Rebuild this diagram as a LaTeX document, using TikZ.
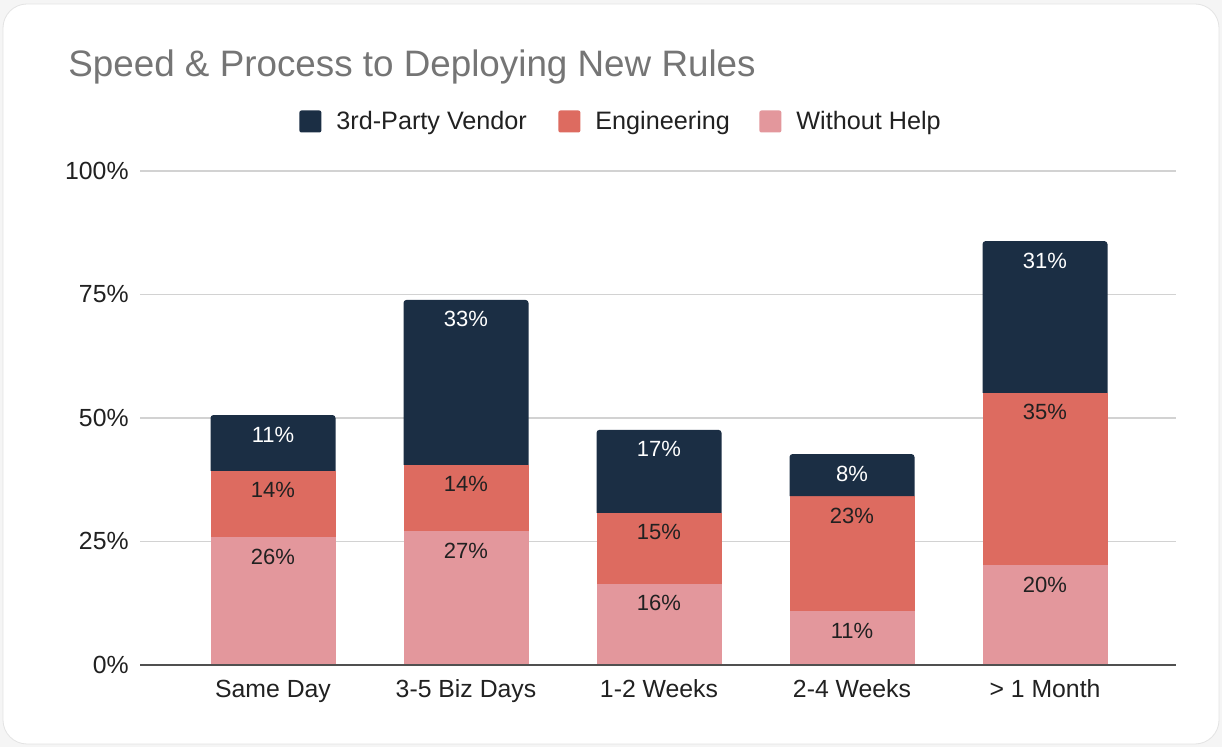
\documentclass[tikz,border=0pt]{standalone}
\usepackage{fontspec}
\setmainfont{Liberation Sans}
\definecolor{vendor}{RGB}{27, 46, 68}
\definecolor{engin}{RGB}{221, 107, 96}
\definecolor{nohelp}{RGB}{227, 151, 156}
\definecolor{titlegray}{RGB}{117, 117, 117}
\definecolor{gridgray}{RGB}{210, 210, 210}
\definecolor{axisgray}{RGB}{80, 80, 80}
\definecolor{ink}{RGB}{33, 33, 33}

\begin{document}
\begin{tikzpicture}[x=0.5pt, y=-0.5pt,
  ticklabel/.style={font=\fontsize{12.4}{14}\selectfont, text=ink, inner sep=0},
  barlabel/.style={font=\fontsize{11}{13}\selectfont, inner sep=0, anchor=base},
  legendbox/.style={minimum size=11pt, inner sep=0, rounded corners=1pt, anchor=west}]

  % card
  \fill[gray!8] (0, 0) rectangle (1222, 747);
  \filldraw[fill=white, draw=gray!22, rounded corners=12pt] (3, 4) rectangle (1219, 744);

  \node[anchor=base west, text=titlegray, font=\fontsize{18.4}{22}\selectfont, inner sep=0] (title) at (68, 77) {Speed \& Process to Deploying New Rules};

  % legend
  \foreach [count=\n] \col/\lx/\txt in {vendor/299/3rd-Party Vendor, engin/558/Engineering, nohelp/759/Without Help} {
    \node[legendbox, fill=\col] (key-\n) at (\lx, 121.5) {};
    \node[ticklabel, font=\fontsize{12.6}{14}\selectfont, anchor=base west] (keytext-\n) at (\lx + 37, 130) {\txt};
  }

  % grid and y labels
  \foreach \v in {25, 50, 75, 100} {
    \draw[gridgray, line width=0.6pt] (140, {665 - 4.94 * \v}) -- (1176, {665 - 4.94 * \v});
  }
  \foreach \v in {0, 25, 50, 75, 100} {
    \node[ticklabel, anchor=base east] (ytick-\v) at (129, {665 - 4.94 * \v + 8.5}) {\v\%};
  }

  % stacked bars
  \foreach [count=\n] \cat/\p/\e/\v/\tp/\te/\tv in {Same Day/25.9/13.4/11.3/26/14/11,
                                                    3-5 Biz Days/27.1/13.4/33.4/27/14/33,
                                                    1-2 Weeks/16.4/14.4/16.8/16/15/17,
                                                    2-4 Weeks/10.9/23.3/8.5/11/23/8,
                                                    > 1 Month/20.2/34.9/30.7/20/35/31} {
    \pgfmathsetmacro{\x}{273 + 193 * (\n - 1)}
    \pgfmathsetmacro{\ya}{665 - 4.94 * \p}
    \pgfmathsetmacro{\yb}{665 - 4.94 * (\p + \e)}
    \pgfmathsetmacro{\yc}{665 - 4.94 * (\p + \e + \v)}
    \fill[nohelp] (\x - 62.5, 665) rectangle (\x + 62.5, \ya);
    \fill[engin] (\x - 62.5, \ya) rectangle (\x + 62.5, \yb);
    \fill[vendor, rounded corners=1.5pt] (\x - 62.5, \yb) -- (\x - 62.5, \yc) -- (\x + 62.5, \yc) -- (\x + 62.5, \yb);

    \node[barlabel, text=ink] (nohelp-\n) at (\x, \ya + 27) {\tp\%};
    \node[barlabel, text=ink] (engin-\n) at (\x, \yb + 27) {\te\%};
    \node[barlabel, text=white] (vendor-\n) at (\x, \yc + 27) {\tv\%};

    \node[ticklabel, anchor=base] (cat-\n) at (\x, 698) {\cat};
  }

  \draw[axisgray, line width=1pt] (140, 665) -- (1176, 665);
\end{tikzpicture}
\end{document}
